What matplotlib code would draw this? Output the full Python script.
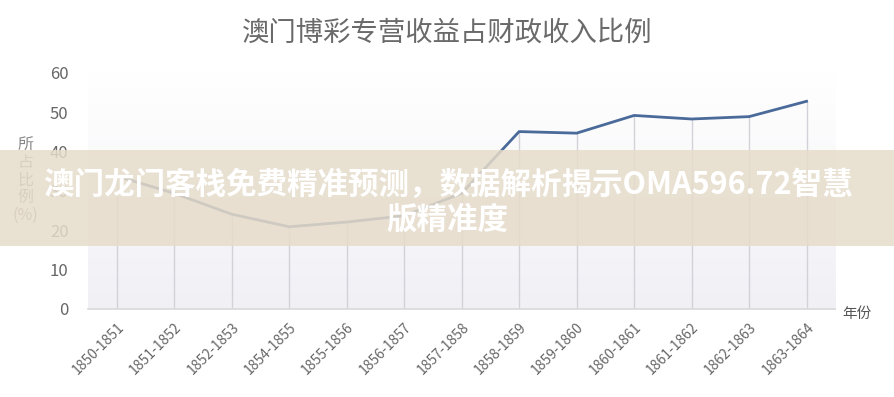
import numpy as np
import matplotlib
matplotlib.use("Agg")
from matplotlib import pyplot as plt
from matplotlib.colors import LinearSegmentedColormap
from matplotlib.patches import Rectangle

plt.rcParams['font.family'] = ['Noto Sans CJK SC', 'DejaVu Sans']

years = ["1850-1851", "1851-1852", "1852-1853", "1854-1855", "1855-1856",
         "1856-1857", "1857-1858", "1858-1859", "1859-1860", "1860-1861",
         "1861-1862", "1862-1863", "1863-1864"]
share = [33.8, 29.4, 24.1, 20.9, 22.1, 23.7, 29.4, 45.1, 44.7, 49.2, 48.3, 48.9, 52.8]
yticks = [0, 10, 20, 30, 40, 50, 60]

title = "澳门博彩专营收益占财政收入比例"
banner = "澳门龙门客栈免费精准预测，数据解析揭示OMA596.72智慧\n版精准度"

fig = plt.figure(figsize=(8.95, 3.97), dpi=100)
ax = fig.add_axes([0.0983, 0.2217, 0.835, 0.5945])

x = np.arange(len(years))
ax.set_xlim(-0.5, len(years) - 0.5)
ax.set_ylim(0, 60)

# soft gradient behind the plot area
grad = np.linspace(0, 1, 256).reshape(-1, 1)
cmap = LinearSegmentedColormap.from_list("bg", ["#f1f0f5", "#ffffff"])
ax.imshow(grad, cmap=cmap, origin="lower", aspect="auto",
          extent=[-0.5, len(years) - 0.5, 0, 60], zorder=0)

# drop lines from each point to the axis
ax.vlines(x, 0, share, colors="#d2d2d8", linewidth=1, zorder=1)
ax.plot(x, share, color="#4a6a9a", linewidth=2, zorder=3)

for s in ["top", "right", "left"]:
    ax.spines[s].set_visible(False)
ax.spines["bottom"].set_color("#d8d8dc")
ax.spines["bottom"].set_linewidth(1.2)

ax.set_xticks(x)
ax.set_xticklabels(years, rotation=45, ha="right", va="top",
                   rotation_mode="anchor", fontsize=10, color="#666666")
ax.set_yticks(yticks)
ax.set_yticklabels([str(v) for v in yticks], fontsize=12, color="#666666")
ax.tick_params(axis="x", length=0, pad=8)
ax.tick_params(axis="y", length=0, pad=14)

fig.text(0.5, 0.917, title, ha="center", va="center", fontsize=19.7, color="#6a6a6a")
fig.text(0.028, 0.547, "所\n占\n比\n例\n(%)", ha="center", va="center",
         fontsize=11.5, color="#888888", linespacing=1.05)
fig.text(0.958, 0.21, "年份", ha="center", va="center", fontsize=10.5, color="#555555")

# overlay band with caption
fig.patches.append(Rectangle((0, 1 - 246 / 397), 1, 96 / 397, transform=fig.transFigure,
                             facecolor="#e6dcca", alpha=0.85, edgecolor="none", zorder=5))
fig.text(0.5, 1 - 202 / 397, banner, ha="center", va="center", fontsize=22,
         fontweight="heavy", color="white", linespacing=1.1, zorder=6)

fig.savefig("out.png", dpi=100)
